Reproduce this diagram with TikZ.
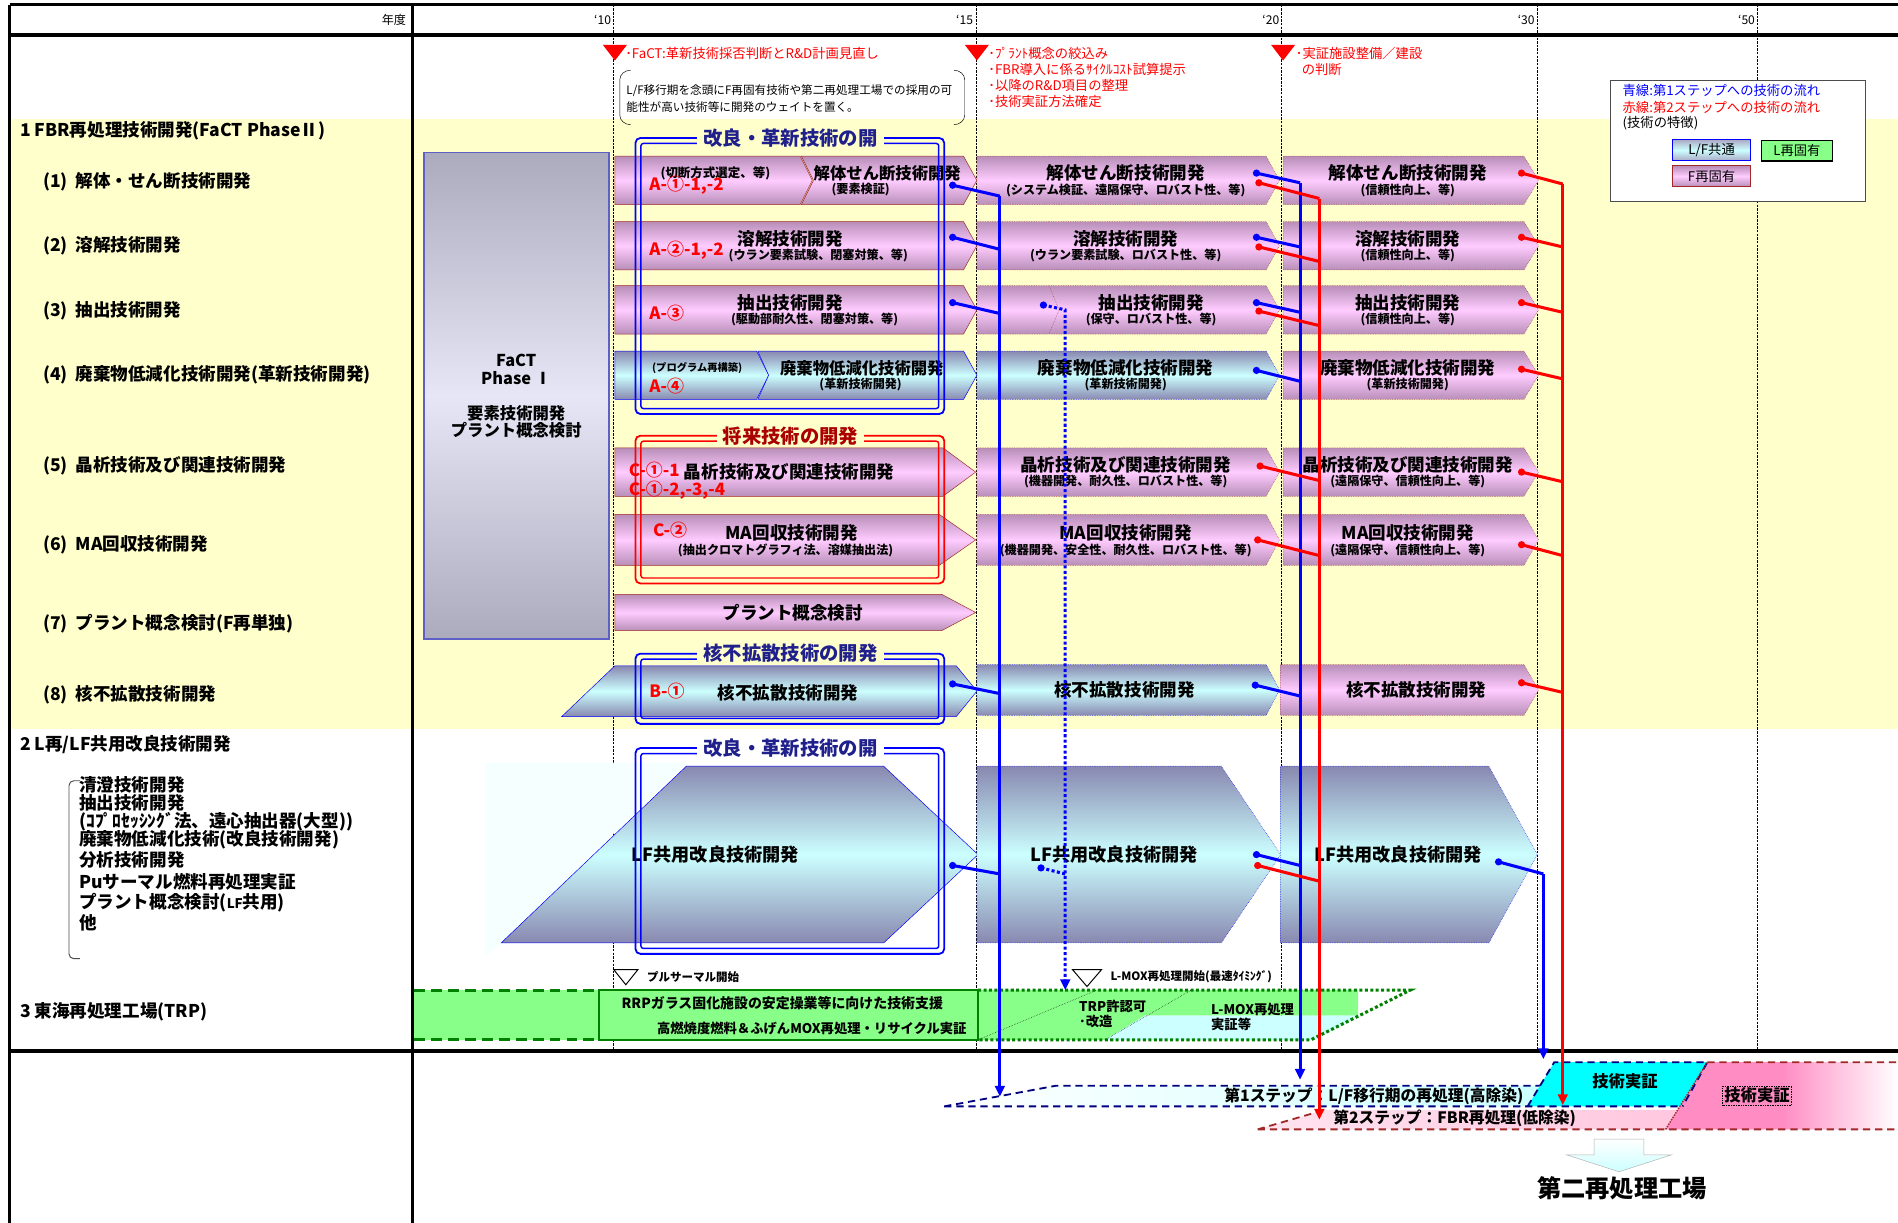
\documentclass[tikz,border=0pt]{standalone}
\usepackage{fontspec}
\setmainfont{Noto Sans CJK JP}
\usetikzlibrary{arrows.meta, positioning, calc}
\definecolor{BandYellow}{RGB}{255,255,204}
\definecolor{PinkLt}{RGB}{255,204,255}
\definecolor{Mauve}{RGB}{184,142,184}
\definecolor{CyanLt}{RGB}{204,255,255}
\definecolor{CyanBr}{RGB}{0,255,255}
\definecolor{Slate}{RGB}{136,136,176}
\definecolor{FRed}{RGB}{160,40,40}
\definecolor{NavyT}{RGB}{32,32,140}
\definecolor{RedT}{RGB}{170,0,0}
\definecolor{LGreen}{RGB}{136,255,136}
\definecolor{DGreen}{RGB}{0,128,0}
\definecolor{GrayBox}{RGB}{172,171,190}
\definecolor{GrayLt}{RGB}{230,230,246}
\definecolor{StepPink}{RGB}{255,185,215}
\definecolor{BlockPink}{RGB}{255,140,195}
\definecolor{StepNavy}{RGB}{0,0,128}

\begin{document}
\begin{tikzpicture}[x=1pt, y=-1pt,
    lbl/.style={anchor=west, font=\bfseries\fontsize{14.5}{16}\selectfont},
    ttl/.style={font=\bfseries\fontsize{14.5}{16}\selectfont},
    sub/.style={font=\bfseries\fontsize{10}{11}\selectfont},
    code/.style={anchor=west, text=red, font=\bfseries\fontsize{14}{15}\selectfont},
    note/.style={anchor=west, text=red, font=\fontsize{11}{12}\selectfont},
    small/.style={anchor=west, font=\bfseries\fontsize{11}{12}\selectfont},
    grptitle/.style={font=\bfseries\fontsize{16}{18}\selectfont, fill=BandYellow, inner xsep=5pt, inner ysep=1pt},
    grpbox/.style={line width=1.5pt, rounded corners=4pt},
    pinkbar/.style={draw=FRed, densely dotted, top color=Mauve, bottom color=Mauve, middle color=PinkLt},
    pinkbarS/.style={draw=FRed, top color=Mauve, bottom color=Mauve, middle color=PinkLt},
    cyanbar/.style={draw=blue, top color=Slate, bottom color=Slate, middle color=CyanLt},
    bline/.style={draw=blue, line width=2.5pt},
    rline/.style={draw=red, line width=2.5pt},
    arr/.style={-{Triangle[length=9pt, width=8pt]}},
    yearline/.style={line width=0.8pt, dash pattern=on 2pt off 1pt},
    chip/.style={minimum width=64, minimum height=17, inner sep=0pt, line width=1pt, font=\fontsize{11}{12}\selectfont}
]
    \useasboundingbox (0,0) rectangle (1568,1010);
    \fill[BandYellow] (8,98) rectangle (1568,602);

    % grid
    \foreach \x in {507,807,1059,1270,1452}
        \draw[yearline] (\x,4) -- (\x,868);
    \draw[line width=2.5pt] (8,4) -- (1568,4) (8,4) -- (8,1010) (341,4) -- (341,1010);
    \draw[line width=3pt] (8,29) -- (1568,29) (8,868) -- (1568,868);

    \node[anchor=east, font=\fontsize{10}{12}\selectfont] (nendo) at (339,16.5) {年度};
    \foreach \x/\yr in {506/10, 805/15, 1058/20, 1269/30, 1451/50}
        \node[anchor=east, inner sep=1pt, font=\fontsize{10}{12}\selectfont] (yr\yr) at (\x,16.5) {‘\yr};

    % milestones
    \foreach \x in {508,807,1060}
        \fill[red] (\x-10,37) -- (\x+10,37) -- (\x,50) -- cycle;
    \node[note] (mile1) at (513,44) {･FaCT:革新技術採否判断とR\&D計画見直し};
    \foreach \t [count=\i] in {･ﾌﾟﾗﾝﾄ概念の絞込み, ･FBR導入に係るｻｲｸﾙｺｽﾄ試算提示, ･以降のR\&D項目の整理, ･技術実証方法確定}
        \node[note] (mile2\i) at (813,30.5+13.4*\i) {\t};
    \node[note] (mile31) at (1067,44) {･実証施設整備／建設};
    \node[note] (mile32) at (1067,57.5) {\ \ の判断};

    \draw[thin] (521,58) to[out=180,in=90] (512,66) -- (512,95) to[out=-90,in=180] (521,103);
    \draw[thin] (788,58) to[out=0,in=90] (797,66) -- (797,95) to[out=-90,in=0] (788,103);
    \node[anchor=west, font=\fontsize{9.6}{11}\selectfont] (policy1) at (514,75) {L/F移行期を念頭にF再固有技術や第二再処理工場での採用の可};
    \node[anchor=west, font=\fontsize{9.6}{11}\selectfont] (policy2) at (514,88.5) {能性が高い技術等に開発のウェイトを置く。};

    % legend
    \node[draw=gray!60!black, line width=0.8pt, fill=white, anchor=north west, minimum width=211, minimum height=100, inner sep=0pt] (legend) at (1330,66) {};
    \node[anchor=west, text=blue, font=\fontsize{11}{12}\selectfont] (leg1) at (1337,75) {青線:第1ステップへの技術の流れ};
    \node[anchor=west, text=red, font=\fontsize{11}{12}\selectfont] (leg2) at (1337,88.5) {赤線:第2ステップへの技術の流れ};
    \node[anchor=west, font=\fontsize{11}{12}\selectfont] (leg3) at (1337,102) {(技術の特徴)};
    \node[chip, draw=blue, top color=Slate!70, bottom color=Slate!70, middle color=CyanLt] (chip1) at (1414,124) {L/F共通};
    \node[chip, draw=black, fill=LGreen, minimum width=59] (chip2) at (1484.5,124.5) {L再固有};
    \node[chip, draw=FRed, top color=Mauve, bottom color=Mauve, middle color=PinkLt] (chip3) at (1414,145.5) {F再固有};

    % left column
    \node[lbl] (sec1) at (13,108) {1 FBR再処理技術開発(FaCT PhaseⅡ)};
    \foreach \y/\t [count=\i] in {150/解体・せん断技術開発, 203/溶解技術開発, 257/抽出技術開発, 310/{廃棄物低減化技術開発(革新技術開発)}, 385/晶析技術及び関連技術開発, 450/MA回収技術開発, 515/{プラント概念検討(F再単独)}, 574/核不拡散技術開発}
        \node[lbl] (item\i) at (32,\y) {(\i)\ \ \t};
    \node[lbl] (sec2) at (13,615) {2 L再/LF共用改良技術開発};
    \draw[gray!60!black, line width=0.8pt] (66,645) -- (61,645) to[out=180,in=90] (57,649) -- (57,788) to[out=-90,in=180] (61,792) -- (66,792);
    \foreach \y/\t [count=\i] in {648.5/清澄技術開発, 663.5/抽出技術開発, 679/{(ｺﾌﾟﾛｾｯｼﾝｸﾞ法、遠心抽出器(大型))}, 694/{廃棄物低減化技術(改良技術開発)}, 710.5/分析技術開発, 728.5/Puサーマル燃料再処理実証, 746/{プラント概念検討({\fontsize{11}{12}\selectfont LF}共用)}, 762.5/他}
        \node[lbl] (cmn\i) at (62,\y) {\t};
    \node[lbl] (sec3) at (13,836) {3 東海再処理工場(TRP)};

    % FaCT Phase I
    \node[draw=Slate!70!blue, line width=1.5pt, top color=GrayBox, bottom color=GrayBox, middle color=GrayLt, minimum width=153, minimum height=402, inner sep=0pt] (phase1) at (426.5,327) {};
    \node[align=center, font=\bfseries\fontsize{13.5}{14.4}\selectfont] (phase1txt) at (426.5,327.5) {FaCT\\Phase Ⅰ\\[14.4pt]要素技術開発\\プラント概念検討};

    % '10-'15
    \path[pinkbarS] (508,129) -- (661,129) -- (671,149) -- (661,169) -- (508,169) -- cycle;
    \path[pinkbarS] (662,129) -- (796,129) -- (807,149) -- (796,169) -- (662,169) -- (672,149) -- cycle;
    \foreach \yt/\yb in {183/223, 236/276}
        \path[pinkbarS] (508,\yt) -- (796,\yt) -- (807,{(\yt+\yb)/2}) -- (796,\yb) -- (508,\yb) -- cycle;
    \path[cyanbar] (508,290) -- (625,290) -- (635,310) -- (625,330) -- (508,330) -- cycle;
    \path[cyanbar] (626,290) -- (796,290) -- (807,310) -- (796,330) -- (626,330) -- (635,310) -- cycle;
    \foreach \yt/\yb/\xr in {370/410/779, 425/467/776, 491/521/778}
        \path[pinkbarS] (508,\yt) -- (\xr,\yt) -- (806,{(\yt+\yb)/2}) -- (\xr,\yb) -- (508,\yb) -- cycle;
    \path[cyanbar] (464,592) -- (508,550) -- (790,550) -- (807,571) -- (790,592) -- cycle;
    \fill[CyanLt!18] (401,630) -- (567,630) -- (414,779) -- (401,790) -- cycle;
    \path[cyanbar] (414,779) -- (567,633) -- (730,633) -- (808,706) -- (730,779) -- cycle;

    % '15-'20
    \foreach \yt/\yb in {129/169, 183/223, 236/276, 370/410, 425/467}
        \path[pinkbar] (807,\yt) -- (1046,\yt) -- (1057,{(\yt+\yb)/2}) -- (1046,\yb) -- (807,\yb) -- cycle;
    \foreach \yt/\yb in {290/330, 549/591}
        \path[cyanbar, densely dotted] (807,\yt) -- (1046,\yt) -- (1057,{(\yt+\yb)/2}) -- (1046,\yb) -- (807,\yb) -- cycle;
    \draw[FRed, densely dotted] (867,237) -- (875,256) -- (867,275);
    \path[cyanbar, densely dotted] (807,633) -- (1009,633) -- (1058,706) -- (1009,779) -- (807,779) -- cycle;

    % '20-'30
    \foreach \yt/\yb/\xl in {129/169/1060, 183/223/1060, 236/276/1060, 290/330/1060, 370/410/1060, 425/467/1060, 549/591/1058}
        \path[pinkbar] (\xl,\yt) -- (1259,\yt) -- (1271,{(\yt+\yb)/2}) -- (1259,\yb) -- (\xl,\yb) -- cycle;
    \path[cyanbar, densely dotted] (1058,633) -- (1230,633) -- (1270,706) -- (1230,779) -- (1058,779) -- cycle;

    % texts '10-'15
    \node[sub, font=\bfseries\fontsize{10.3}{12}\selectfont] (cut) at (591,143) {(切断方式選定、等)};
    \node[code] (a1) at (533,153) {A-①-1,-2};
    \node[ttl, font=\bfseries\fontsize{13.5}{15}\selectfont] (r1t) at (733,143) {解体せん断技術開発};
    \node[sub] (r1s) at (711,157) {(要素検証)};
    \node[code] (a2) at (533,206.5) {A-②-1,-2};
    \node[ttl] (r2t) at (653,197) {溶解技術開発};
    \node[sub] (r2s) at (676,211) {(ウラン要素試験、閉塞対策、等)};
    \node[code] (a3) at (533,259) {A-③};
    \node[ttl] (r3t) at (653,250) {抽出技術開発};
    \node[sub] (r3s) at (673,264) {(駆動部耐久性、閉塞対策、等)};
    \node[sub, font=\bfseries\fontsize{8.5}{10}\selectfont] (prog) at (576,304) {(プログラム再構築)};
    \node[code] (a4) at (533,319) {A-④};
    \node[ttl, font=\bfseries\fontsize{13.5}{15}\selectfont] (r4t) at (712,304) {廃棄物低減化技術開発};
    \node[sub] (r4s) at (711,318) {(革新技術開発)};
    \node[code] (c11) at (516,388) {C-①-1};
    \node[ttl] (r5t) at (652,390) {晶析技術及び関連技術開発};
    \node[code] (c12) at (516,405) {C-①-2,-3,-4};
    \node[code] (c2) at (536,438) {C-②};
    \node[ttl] (r6t) at (654,440.5) {MA回収技術開発};
    \node[sub] (r6s) at (649,454.5) {(抽出クロマトグラフィ法、溶媒抽出法)};
    \node[ttl] (r7t) at (655,506.5) {プラント概念検討};
    \node[code] (b1) at (533,571) {B-①};
    \node[ttl] (r8t) at (651,572) {核不拡散技術開発};
    \node[ttl, font=\bfseries\fontsize{15}{16}\selectfont] (lf1) at (591,706) {LF共用改良技術開発};

    % texts '15-'20 and '20-'30
    \foreach \x/\y/\t/\s [count=\i] in {930/143/解体せん断技術開発/(システム検証、遠隔保守、ロバスト性、等), 930/197/溶解技術開発/(ウラン要素試験、ロバスト性、等), 951/250/抽出技術開発/(保守、ロバスト性、等), 930/304/廃棄物低減化技術開発/(革新技術開発), 930/384/晶析技術及び関連技術開発/(機器開発、耐久性、ロバスト性、等), 930/440.5/MA回収技術開発/(機器開発、安全性、耐久性、ロバスト性、等)} {
        \node[ttl] (m\i) at (\x,\y) {\t};
        \node[sub] (ms\i) at (\x,\y+14) {\s};
    }
    \foreach \y/\t/\s [count=\i] in {143/解体せん断技術開発/(信頼性向上、等), 197/溶解技術開発/(信頼性向上、等), 250/抽出技術開発/(信頼性向上、等), 304/廃棄物低減化技術開発/(革新技術開発), 384/晶析技術及び関連技術開発/(遠隔保守、信頼性向上、等), 440.5/MA回収技術開発/(遠隔保守、信頼性向上、等)} {
        \node[ttl] (n\i) at (1163,\y) {\t};
        \node[sub] (ns\i) at (1163,\y+14) {\s};
    }
    \node[ttl] (m8) at (929,570) {核不拡散技術開発};
    \node[ttl] (n8) at (1170,570) {核不拡散技術開発};
    \node[ttl, font=\bfseries\fontsize{15}{16}\selectfont] (lf2) at (920.5,706) {LF共用改良技術開発};
    \node[ttl, font=\bfseries\fontsize{15}{16}\selectfont] (lf3) at (1155,706) {LF共用改良技術開発};

    % group frames
    \foreach \yt/\yb in {114/342, 540/598, 618/788} {
        \draw[grpbox, blue] (525,\yt) rectangle (780,\yb);
        \draw[grpbox, blue, line width=1.2pt, rounded corners=2pt] (529.5,\yt+4.5) rectangle (775.5,\yb-4.5);
    }
    \draw[grpbox, red] (525,360) rectangle (780,482);
    \draw[grpbox, red, line width=1.2pt, rounded corners=2pt] (529.5,364.5) rectangle (775.5,477.5);
    \node[grptitle, text=NavyT] (g1) at (653,114) {改良・革新技術の開};
    \node[grptitle, text=RedT] (g2) at (653,360) {将来技術の開発};
    \node[grptitle, text=NavyT] (g3) at (653,540) {核不拡散技術の開発};
    \node[grptitle, text=NavyT, fill=white] (g4) at (653,618) {改良・革新技術の開};

    % TRP
    \fill[LGreen] (342,818) rectangle (495,859);
    \draw[DGreen, line width=2.5pt, dash pattern=on 9pt off 5pt] (342,818) -- (495,818) (342,859) -- (495,859);
    \fill[LGreen] (808,818) -- (1122,818) -- (1122,839) -- (946,839) -- (913,859) -- (808,859) -- cycle;
    \fill[CyanLt] (913,859) -- (946,839) -- (1123,839) -- (1086,859) -- cycle;
    \draw[DGreen, line width=2.5pt, dotted] (808,818) -- (1165,818) -- (1083,859) -- (808,859);
    \draw[densely dotted, thin] (808,859) -- (906,818) (913,859) -- (984,818);
    \draw[DGreen, line width=2pt, fill=LGreen] (495,818) rectangle (808,859);
    \node[small, font=\bfseries\fontsize{11.5}{13}\selectfont] (rrp) at (510,829) {RRPガラス固化施設の安定操業等に向けた技術支援};
    \node[small, anchor=east] (fugen) at (802,850) {高燃焼度燃料＆ふげんMOX再処理・リサイクル実証};
    \node[small] (trp1) at (888,831.5) {TRP許認可};
    \node[small] (trp2) at (888,843.5) {･改造};
    \node[small] (lmox1) at (997,834) {L-MOX再処理};
    \node[small] (lmox2) at (997,846) {実証等};
    \draw[line width=0.8pt] (507,801) -- (527,801) -- (517,813.5) -- cycle;
    \node[anchor=west, font=\bfseries\fontsize{9.5}{11}\selectfont] (pluth) at (531,807) {プルサーマル開始};
    \draw[line width=0.8pt] (886,801) -- (910,801) -- (898,815) -- cycle;
    \node[anchor=west, font=\bfseries\fontsize{9.5}{11}\selectfont] (lmoxst) at (914,807) {L-MOX再処理開始(最速ﾀｲﾐﾝｸﾞ)};

    % steps
    \path[left color=white, right color=CyanLt] (780,914) -- (872,897) -- (1280,897) -- (1262,914) -- cycle;
    \path[left color=StepPink!40, right color=StepPink] (1039,933) -- (1094,917) -- (1568,917) -- (1568,933) -- cycle;
    \fill[CyanBr] (1262,914) -- (1284,877.5) -- (1410.5,877.5) -- (1390,914) -- cycle;
    \path[left color=BlockPink, right color=white, middle color=BlockPink] (1376,933) -- (1410.5,877.5) -- (1568,877.5) -- (1568,933) -- cycle;
    \draw[StepNavy, line width=1.5pt, dash pattern=on 6pt off 4pt] (780,914) -- (872,897) -- (1272,897) (1262,914) -- (1284,877.5) -- (1410.5,877.5) -- (1390,914) (780,914) -- (1390,914);
    \draw[FRed, line width=1.5pt, dash pattern=on 6pt off 4pt] (1039,933) -- (1094,917) (1039,933) -- (1568,933) (1410.5,877.5) -- (1568,877.5);
    \draw[FRed, line width=1.2pt, densely dotted] (1376,933) -- (1410.5,877.5);
    \node[anchor=west, font=\bfseries\fontsize{13}{14}\selectfont] (step1) at (1008,906) {第1ステップ：L/F移行期の再処理(高除染)};
    \node[anchor=west, font=\bfseries\fontsize{13}{14}\selectfont] (step2) at (1098,924) {第2ステップ：FBR再処理(低除染)};
    \node[font=\bfseries\fontsize{13.5}{15}\selectfont] (demo1) at (1342.5,893.5) {技術実証};
    \node[draw, densely dotted, thin, inner sep=1.5pt, font=\bfseries\fontsize{13.5}{15}\selectfont] (demo2) at (1451.5,905) {技術実証};
    \path[top color=white, bottom color=CyanLt, draw=gray!60] (1317,941) -- (1358,941) -- (1358,954) -- (1381,954) -- (1337.5,968) -- (1294,954) -- (1317,954) -- cycle;
    \node[font=\bfseries\fontsize{20}{22}\selectfont] (plant2) at (1340,982) {第二再処理工場};

    % flows to step 1
    \foreach \n/\xd/\yd/\xj/\yj in {a/787/153/826/162, b/787/196/826/206, c/787/250/826/259, d/787/565/826/573, e/787/715/826/722, f/1038/143/1074/151, g/1038/196/1074/204, h/1038/250/1074/258, i/1038/306/1074/315, j/1037/566/1074/575, k/1038/706/1074/715, l/1238/712/1275/722} {
        \coordinate (bd\n) at (\xd,\yd);
        \coordinate (bj\n) at (\xj,\yj);
        \draw[bline] (bd\n) -- (bj\n);
        \fill[blue] (bd\n) circle (3pt);
    }
    \coordinate (bend1) at (826,906);
    \coordinate (bend2) at (1074,892);
    \coordinate (bend3) at (1275,875);
    \draw[bline, arr] (bja) -- (bend1);
    \draw[bline, arr] (bjf) -- (bend2);
    \draw[bline, arr] (bjl) -- (bend3);

    \coordinate (dd1) at (862,252);
    \coordinate (dj1) at (880,256);
    \coordinate (dd2) at (860,717);
    \coordinate (dj2) at (880,722);
    \coordinate (dend) at (880,818);
    \draw[blue, line width=2.5pt, dotted] (dd2) -- (dj2);
    \draw[blue, line width=2.5pt, dotted, arr] (dd1) -- (dj1) -- (dend);
    \fill[blue] (dd1) circle (3pt) (dd2) circle (3pt);

    % flows to step 2
    \foreach \n/\xd/\yd/\xj/\yj in {a/1040/151/1090/164, b/1040/204/1090/216, c/1040/257/1090/269, d/1041/385/1090/397, e/1039/446/1090/459, f/1039/715/1090/728, g/1257/143/1291/152, h/1257/196/1291/204, i/1257/250/1291/258, j/1257/305/1291/313, k/1257/390/1291/398, l/1257/450/1291/459, m/1257/564/1291/572} {
        \coordinate (rd\n) at (\xd,\yd);
        \coordinate (rj\n) at (\xj,\yj);
        \draw[rline] (rd\n) -- (rj\n);
        \fill[red] (rd\n) circle (3pt);
    }
    \coordinate (rend1) at (1090,925);
    \coordinate (rend2) at (1291,913);
    \draw[rline, arr] (rja) -- (rend1);
    \draw[rline, arr] (rjg) -- (rend2);
\end{tikzpicture}
\end{document}
